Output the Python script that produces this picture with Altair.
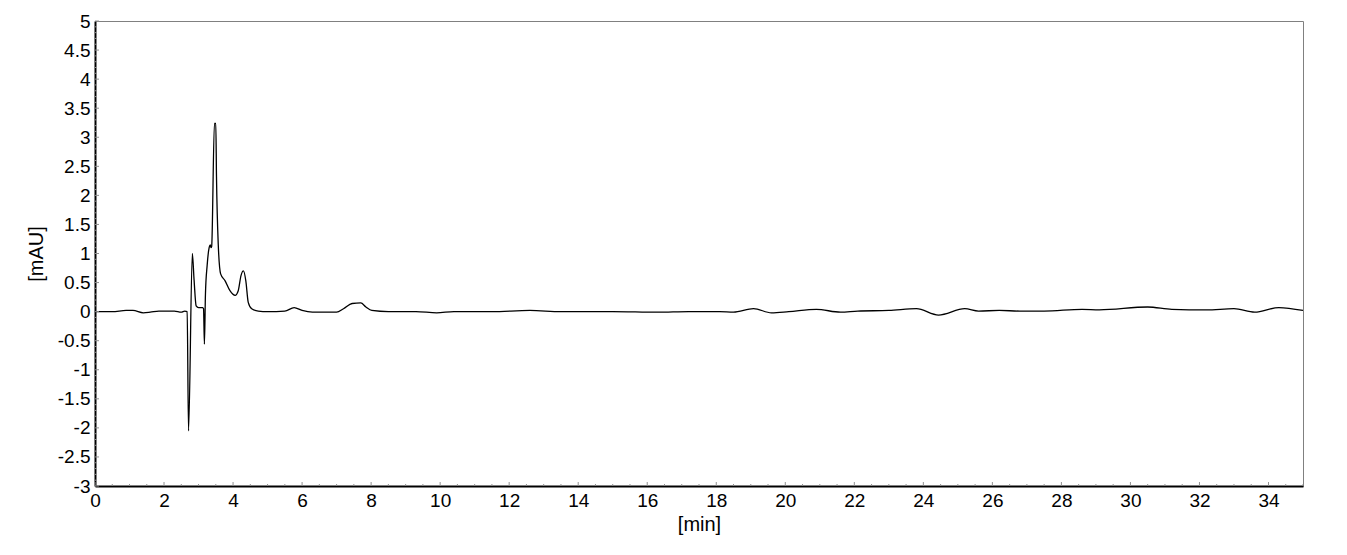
import pandas as pd
import altair as alt

# chromatogram trace: time [min], signal [mAU]
times = [
    0.0, 0.5, 0.9, 1.1, 1.4, 1.6, 1.85, 2.3, 2.5, 2.6, 2.67,
    2.71, 2.82, 2.87, 2.93, 3.0, 3.12, 3.145, 3.17, 3.20, 3.25,
    3.31, 3.34, 3.36, 3.38, 3.46, 3.50, 3.52, 3.57, 3.64, 3.77,
    3.91, 4.06, 4.15, 4.23, 4.30, 4.37, 4.44, 4.54, 4.73, 5.0,
    5.5, 5.77, 6.0, 6.3, 7.0, 7.2, 7.45, 7.7, 7.85, 8.02,
    8.5, 9.3, 9.9, 10.4, 11.5, 12.6, 13.5, 15.0, 16.3, 17.2,
    18.1, 18.5, 19.08, 19.6, 20.1, 20.9, 21.6, 22.1, 23.0, 23.8,
    24.44, 25.2, 25.6, 26.2, 26.8, 27.5, 28.6, 29.1, 30.5, 31.2,
    32.2, 33.0, 33.6, 34.3, 35.0,
]
signal = [
    0.0, 0.0, 0.02, 0.02, -0.02, -0.01, 0.01, 0.01, -0.01, 0.01, 0.0,
    -2.05, 1.0, 0.55, 0.1, 0.07, 0.07, 0.05, -0.56, 0.3, 0.8,
    1.11, 1.15, 1.10, 1.12, 3.24, 3.24, 2.32, 1.17, 0.65, 0.53,
    0.36, 0.28, 0.36, 0.62, 0.70, 0.53, 0.16, 0.05, 0.01, 0.0,
    0.01, 0.07, 0.02, -0.01, -0.01, 0.05, 0.14, 0.15, 0.08, 0.02,
    0.0, 0.0, -0.02, 0.0, 0.0, 0.02, 0.0, 0.0, -0.01, 0.0,
    0.0, -0.01, 0.05, -0.02, 0.0, 0.04, -0.01, 0.01, 0.02, 0.05,
    -0.06, 0.05, 0.01, 0.02, 0.01, 0.01, 0.04, 0.03, 0.08, 0.04,
    0.03, 0.05, -0.01, 0.07, 0.02,
]

x_major = [2 * i for i in range(18)]
x_minor = [0.5 * i for i in range(71) if i % 4]
y_major = [-3 + 0.5 * i for i in range(17)]
y_minor = [round(-3 + 0.1 * i, 1) for i in range(81) if i % 5]

W, H = 1208, 465
FONT = "Liberation Sans"

df = pd.DataFrame({"t": times, "v": signal})

x_scale = alt.Scale(domain=[0, 35], nice=False, zero=False)
y_scale = alt.Scale(domain=[-3, 5], nice=False, zero=False)

x_axis = alt.Axis(title="[min]", values=x_major, ticks=False,
                  labelPadding=5, titlePadding=4, grid=False,
                  labelFlush=False, labelOverlap=False)
y_axis = alt.Axis(title="[mAU]", values=y_major, ticks=False,
                  labelPadding=5, titlePadding=11, grid=False,
                  labelFlush=False, labelOverlap=False,
                  labelExpr="toString(datum.value)")

trace = alt.Chart(df).mark_line(
    color="black", strokeWidth=1.3, interpolate="monotone", clip=True
).encode(
    x=alt.X("t:Q", scale=x_scale, axis=x_axis),
    y=alt.Y("v:Q", scale=y_scale, axis=y_axis),
)

def xticks(vals, size):
    return alt.Chart(pd.DataFrame({"t": vals})).mark_rule(
        color="#909090", strokeWidth=1
    ).encode(x=alt.X("t:Q", scale=x_scale, axis=x_axis),
             y=alt.value(H), y2=alt.value(H - size))

def yticks(vals, size):
    return alt.Chart(pd.DataFrame({"v": vals})).mark_rule(
        color="#909090", strokeWidth=1
    ).encode(y=alt.Y("v:Q", scale=y_scale, axis=y_axis),
             x=alt.value(0), x2=alt.value(size))

chart = alt.layer(
    trace,
    xticks(x_minor, 2), xticks(x_major, 4),
    yticks(y_minor, 2), yticks(y_major, 4),
).properties(
    width=W, height=H,
    autosize=alt.AutoSizeParams(type="none"),
    padding={"left": 87, "top": 13, "right": 20, "bottom": 60},
).configure_view(
    stroke="#808080", strokeWidth=1
).configure_axis(
    labelFont=FONT, titleFont=FONT, labelFontSize=19, titleFontSize=20,
    titleFontWeight="normal", labelColor="black", titleColor="black",
    domainColor="black", domainWidth=2,
)

chart.save("out.html", embed_options={"renderer": "svg", "actions": False})
